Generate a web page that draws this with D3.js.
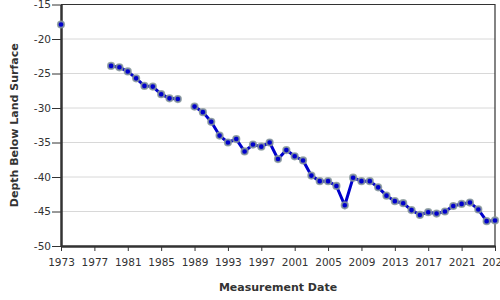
<!DOCTYPE html>
<html>
<head>
<meta charset="utf-8">
<script src="https://cdn.jsdelivr.net/npm/d3@7"></script>
<style>
  body { margin: 0; background: #fff; }
  svg { font-family: "DejaVu Sans", Verdana, sans-serif; }
</style>
</head>
<body>
<svg id="chart" width="500" height="300"></svg>
<script>
// measurement years and depths (null = no measurement, line breaks there)
const years = [1973, 1979, 1980, 1981, 1982, 1983, 1984, 1985, 1986, 1987, 1988,
  1989, 1990, 1991, 1992, 1993, 1994, 1995, 1996, 1997, 1998, 1999, 2000,
  2001, 2002, 2003, 2004, 2005, 2006, 2007, 2008, 2009, 2010, 2011, 2012,
  2013, 2014, 2015, 2016, 2017, 2018, 2019, 2020, 2021, 2022, 2023, 2024, 2025];
const depths = [-17.9, -23.9, -24.1, -24.7, -25.7, -26.8, -26.9, -28.0, -28.6, -28.7, null,
  -29.8, -30.6, -32.0, -34.0, -35.0, -34.5, -36.3, -35.3, -35.6, -35.0, -37.4, -36.1,
  -37.0, -37.6, -39.8, -40.6, -40.6, -41.3, -44.1, -40.1, -40.6, -40.6, -41.5, -42.7,
  -43.5, -43.8, -44.8, -45.5, -45.1, -45.3, -45.0, -44.2, -43.9, -43.7, -44.7, -46.4, -46.3];
const xTicks = d3.range(1973, 2026, 4);
const yTicks = [-15, -20, -25, -30, -35, -40, -45, -50];

const data = years.map((y, i) => ({ year: y, depth: depths[i] }));
// 1973 stands alone; no line from it to 1979
const segBreak = 1973;

const svg = d3.select('#chart');
const m = { left: 61, right: 5, top: 4.5, bottom: 54 };
const W = 500, H = 300;

const x = d3.scaleLinear().domain([1973, 2025]).range([m.left, W - m.right]);
const y = d3.scaleLinear().domain([-15, -50]).range([m.top, H - m.bottom]);

// grid
svg.append('g')
  .selectAll('line')
  .data(yTicks)
  .join('line')
  .attr('x1', m.left).attr('x2', W - m.right)
  .attr('y1', d => y(d)).attr('y2', d => y(d))
  .attr('stroke', '#d8d8d8')
  .attr('stroke-width', 1);

// frame top + right
svg.append('path')
  .attr('d', `M${m.left},${y(-15)}H${x(2025)}V${y(-50)}`)
  .attr('fill', 'none')
  .attr('stroke', '#333')
  .attr('stroke-width', 1.2);

// axes
const xAxis = svg.append('g')
  .attr('transform', `translate(0,${y(-50)})`)
  .call(d3.axisBottom(x).tickValues(xTicks).tickFormat(d3.format('d')).tickSize(5).tickSizeOuter(0));
const yAxis = svg.append('g')
  .attr('transform', `translate(${m.left},0)`)
  .call(d3.axisLeft(y).tickValues(yTicks).tickFormat(d => String(d)).tickSize(9).tickSizeOuter(0));

[xAxis, yAxis].forEach(g => {
  g.select('.domain').attr('stroke', '#333').attr('stroke-width', 2.5);
  g.selectAll('.tick line').attr('stroke', '#333');
  g.selectAll('.tick text').attr('fill', '#333').style('font-size', '10.5px')
    .style('font-family', '"DejaVu Sans", Verdana, sans-serif');
});
xAxis.selectAll('.tick text').attr('dy', '1.1em');
yAxis.selectAll('.tick text').attr('x', -10);

// line
const line = d3.line()
  .defined(d => d.depth !== null)
  .x(d => x(d.year))
  .y(d => y(d.depth));

svg.append('path')
  .datum(data.filter(d => d.year !== segBreak))
  .attr('d', line)
  .attr('fill', 'none')
  .attr('stroke', '#0000cc')
  .attr('stroke-width', 3);

// points
svg.append('g')
  .selectAll('circle')
  .data(data.filter(d => d.depth !== null))
  .join('circle')
  .attr('cx', d => x(d.year))
  .attr('cy', d => y(d.depth))
  .attr('r', 3.2)
  .attr('fill', '#0000cc')
  .attr('stroke', '#8a9a9a')
  .attr('stroke-opacity', 0.85)
  .attr('stroke-width', 1.8);

// titles
svg.append('text')
  .attr('x', 278).attr('y', 291)
  .attr('text-anchor', 'middle')
  .attr('font-weight', 'bold')
  .attr('font-size', 11)
  .attr('fill', '#333')
  .text('Measurement Date');

svg.append('text')
  .attr('transform', `translate(18,${(y(-15) + y(-50)) / 2}) rotate(-90)`)
  .attr('text-anchor', 'middle')
  .attr('font-weight', 'bold')
  .attr('font-size', 11)
  .attr('fill', '#333')
  .text('Depth Below Land Surface');
</script>
</body>
</html>
